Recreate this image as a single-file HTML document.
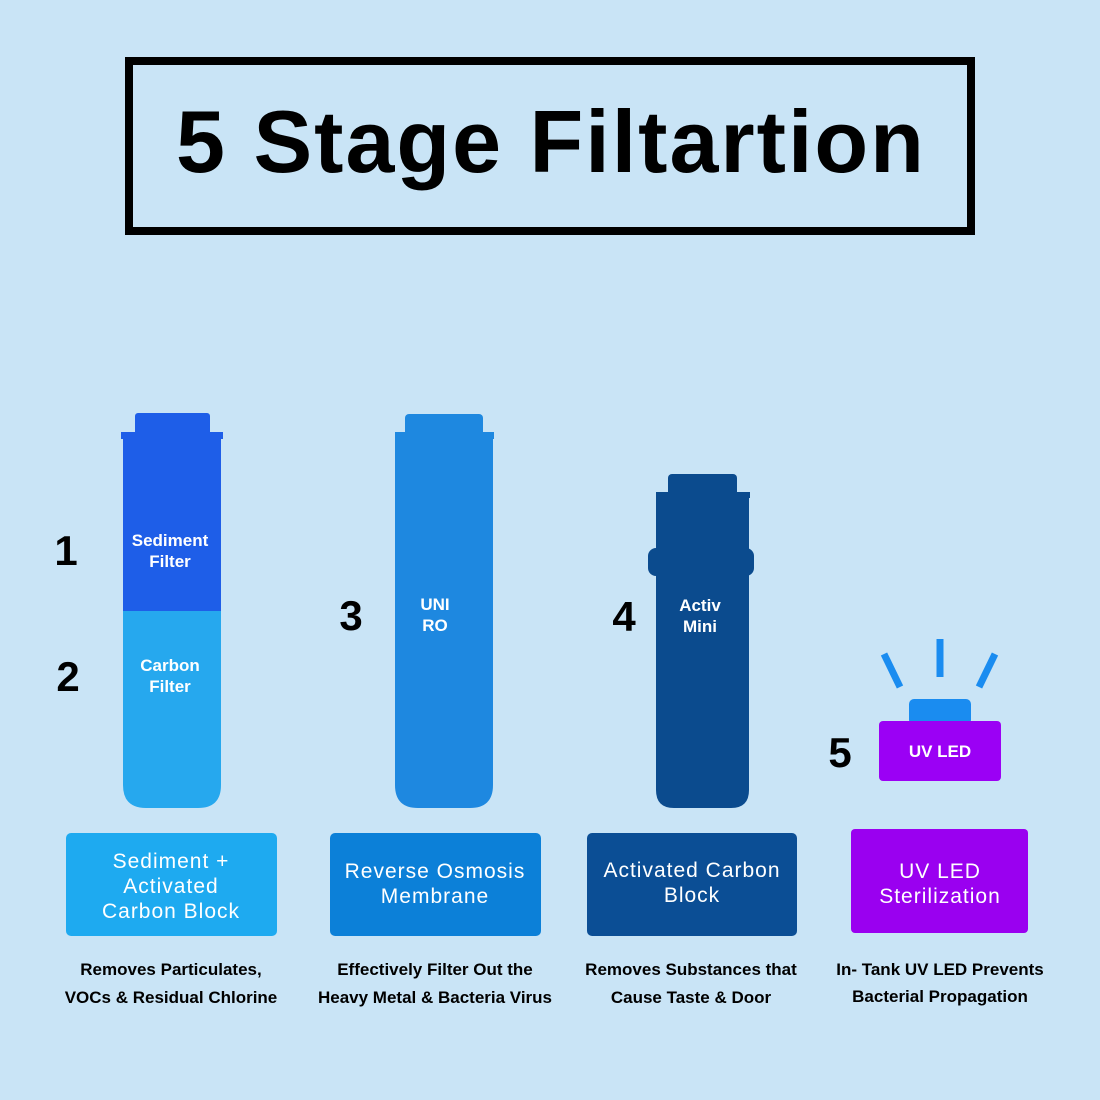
<!DOCTYPE html>
<html><head><meta charset="utf-8"><style>
body{margin:0;background:#c9e4f6;}
svg{display:block}
text{font-family:"Liberation Sans",sans-serif}
</style></head><body>
<svg width="1100" height="1100" viewBox="0 0 1100 1100">
<rect width="1100" height="1100" fill="#c9e4f6"/>
<rect x="129" y="61" width="842" height="170" fill="none" stroke="#000" stroke-width="8"/>
<text x="551" y="172" font-size="88" font-weight="bold" text-anchor="middle" letter-spacing="2">5 Stage Filtartion</text>

<!-- filter 1 -->
<rect x="135" y="413" width="75" height="22" rx="3" fill="#1e5ee8"/>
<rect x="121" y="432" width="102" height="7" fill="#1e5ee8"/>
<rect x="123" y="438" width="98" height="174" fill="#1e5ee8"/>
<path d="M123 611 H221 V785 Q221 808 198 808 H146 Q123 808 123 785 Z" fill="#26a8ee"/>
<text x="170" y="546" font-size="17" font-weight="bold" fill="#fff" text-anchor="middle">Sediment</text>
<text x="170" y="567" font-size="17" font-weight="bold" fill="#fff" text-anchor="middle">Filter</text>
<text x="170" y="671" font-size="17" font-weight="bold" fill="#fff" text-anchor="middle">Carbon</text>
<text x="170" y="692" font-size="17" font-weight="bold" fill="#fff" text-anchor="middle">Filter</text>

<!-- filter 3 -->
<rect x="405" y="414" width="78" height="22" rx="4" fill="#1e88e0"/>
<rect x="395" y="432" width="99" height="7" fill="#1e88e0"/>
<path d="M395 438 H493 V785 Q493 808 470 808 H418 Q395 808 395 785 Z" fill="#1e88e0"/>
<text x="435" y="610" font-size="17" font-weight="bold" fill="#fff" text-anchor="middle">UNI</text>
<text x="435" y="631" font-size="17" font-weight="bold" fill="#fff" text-anchor="middle">RO</text>

<!-- filter 4 -->
<rect x="668" y="474" width="69" height="22" rx="4" fill="#0b4b8e"/>
<rect x="656" y="492" width="94" height="6" fill="#0b4b8e"/>
<path d="M656 497 H749 V790 Q749 808 731 808 H674 Q656 808 656 790 Z" fill="#0b4b8e"/>
<rect x="648" y="548" width="106" height="28" rx="8" fill="#0b4b8e"/>
<text x="700" y="611" font-size="17" font-weight="bold" fill="#fff" text-anchor="middle">Activ</text>
<text x="700" y="632" font-size="17" font-weight="bold" fill="#fff" text-anchor="middle">Mini</text>

<!-- UV -->
<g stroke="#1a8cf0" stroke-width="7">
<line x1="940" y1="639" x2="940" y2="677"/>
<line x1="884" y1="654" x2="900" y2="687"/>
<line x1="995" y1="654" x2="979" y2="687"/>
</g>
<rect x="909" y="699" width="62" height="26" rx="5" fill="#1a8cf0"/>
<rect x="879" y="721" width="122" height="60" rx="4" fill="#9b00f5"/>
<text x="940" y="757" font-size="17" font-weight="bold" fill="#fff" text-anchor="middle">UV LED</text>

<!-- numbers -->
<g font-size="42" font-weight="bold" text-anchor="middle">
<text x="66" y="565">1</text>
<text x="68" y="691">2</text>
<text x="351" y="630">3</text>
<text x="624" y="631">4</text>
<text x="840" y="767">5</text>
</g>

<!-- bottom boxes -->
<rect x="66" y="833" width="211" height="103" rx="5" fill="#1eaaf0"/>
<rect x="330" y="833" width="211" height="103" rx="5" fill="#0c80d8"/>
<rect x="587" y="833" width="210" height="103" rx="5" fill="#0b4e95"/>
<rect x="851" y="829" width="177" height="104" rx="4" fill="#9a00f0"/>
<g font-size="21" fill="#fff" text-anchor="middle" letter-spacing="1">
<text x="171" y="868">Sediment +</text>
<text x="171" y="893">Activated</text>
<text x="171" y="918">Carbon Block</text>
<text x="435" y="878">Reverse Osmosis</text>
<text x="435" y="903">Membrane</text>
<text x="692" y="877">Activated Carbon</text>
<text x="692" y="902">Block</text>
<text x="940" y="878">UV LED</text>
<text x="940" y="903">Sterilization</text>
</g>
<g font-size="17" font-weight="bold" text-anchor="middle">
<text x="171" y="975">Removes Particulates,</text>
<text x="171" y="1003">VOCs &amp; Residual Chlorine</text>
<text x="435" y="975">Effectively Filter Out the</text>
<text x="435" y="1003">Heavy Metal &amp; Bacteria Virus</text>
<text x="691" y="975">Removes Substances that</text>
<text x="691" y="1003">Cause Taste &amp; Door</text>
<text x="940" y="975">In- Tank UV LED Prevents</text>
<text x="940" y="1002">Bacterial Propagation</text>
</g>
</svg>
</body></html>
